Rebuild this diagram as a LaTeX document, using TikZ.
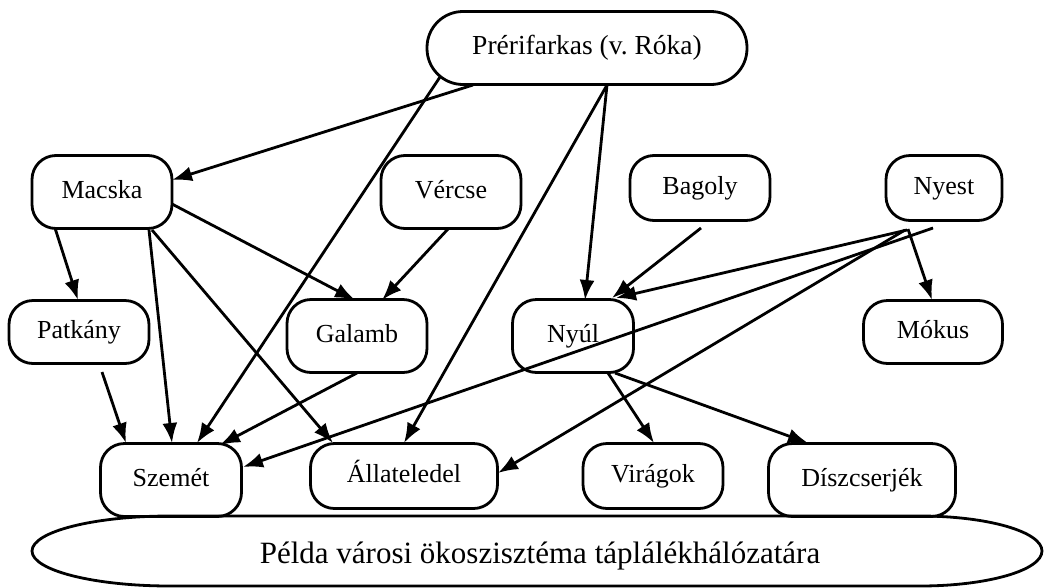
\documentclass[tikz,border=0pt]{standalone}
\usepackage{fontspec}
\setmainfont{Liberation Serif}
\usetikzlibrary{arrows.meta}
\tikzset{
  animal/.style={draw, line width=2.8pt, rounded corners=24pt, inner sep=0pt,
    font=\fontsize{26}{30}\selectfont, text height=18pt, text depth=6pt},
  feed/.style={-{Latex[length=20pt,width=15pt]}, line width=2.8pt},
}
\begin{document}
\begin{tikzpicture}[x=1pt, y=-1pt]
\fill[white] (0,0) rectangle (1060,587);
\useasboundingbox (0,0) rectangle (1060,587);

% nodes
\node[animal, rounded corners=36pt, minimum width=320pt, minimum height=73pt, font=\fontsize{27.5}{32}\selectfont] (pref) at (587,48) {Prérifarkas (v.\ Róka)};
\node[animal, minimum width=140pt, minimum height=73pt] (macska) at (102,192) {Macska};
\node[animal, minimum width=140pt, minimum height=73pt] (vercse) at (451,192) {Vércse};
\node[animal, minimum width=140pt, minimum height=65pt] (bagoly) at (700,188) {Bagoly};
\node[animal, minimum width=116pt, minimum height=65pt] (nyest) at (944,188) {Nyest};
\node[animal, minimum width=140pt, minimum height=63pt] (patkany) at (79,332) {Patkány};
\node[animal, minimum width=140pt, minimum height=73pt] (galamb) at (357,336) {Galamb};
\node[animal, minimum width=121pt, minimum height=73pt] (nyul) at (573,336) {Nyúl};
\node[animal, minimum width=139pt, minimum height=63pt] (mokus) at (933,332) {Mókus};
\node[animal, minimum width=141pt, minimum height=73pt] (szemet) at (171,480) {Szemét};
\node[animal, minimum width=187pt, minimum height=65pt] (allat) at (404,476) {Állateledel};
\node[animal, minimum width=140pt, minimum height=65pt] (viragok) at (653,476) {Virágok};
\node[animal, minimum width=187pt, minimum height=73pt] (diszc) at (862,480) {Díszcserjék};

% bottom caption shape
\draw[line width=2.8pt] (170,516) -- (920,516)
  arc[start angle=-90, end angle=90, x radius=122, y radius=35]
  -- (170,586)
  arc[start angle=90, end angle=270, x radius=138, y radius=35] -- cycle;
\node[anchor=base, font=\fontsize{31}{36}\selectfont, inner sep=0pt] (caption) at (540,563) {Példa városi ökoszisztéma táplálékhálózatára};

% connectors
\draw[feed] ([shift={(-114,37)}]pref.center) -- ([shift={(70,-12)}]macska.center);
\draw[feed] ([shift={(-147,29)}]pref.center) -- ([shift={(26,-37)}]szemet.center);
\draw[feed] ([shift={(20,37)}]pref.center) -- ([shift={(0,-33)}]allat.center);
\draw[feed] ([shift={(20,37)}]pref.center) -- ([shift={(12,-36)}]nyul.center);

\draw[feed] ([shift={(-47,36)}]macska.center) -- ([shift={(-1,-32)}]patkany.center);
\draw[feed] ([shift={(47,38)}]macska.center) -- ([shift={(1,-37)}]szemet.center);
\draw[feed] ([shift={(50,38)}]macska.center) -- ([shift={(-71,-33)}]allat.center);
\draw[feed] ([shift={(70,12)}]macska.center) -- ([shift={(-2,-36)}]galamb.center);

\draw[feed] ([shift={(-3,37)}]vercse.center) -- ([shift={(25,-36)}]galamb.center);
\draw[feed] ([shift={(1,40)}]bagoly.center) -- ([shift={(39,-38)}]nyul.center);

\draw[feed] ([shift={(-37,42)}]nyest.center) -- ([shift={(43,-38)}]nyul.center);
\draw[feed] ([shift={(-11,40)}]nyest.center) -- ([shift={(72,-13)}]szemet.center);
\draw[feed] ([shift={(-39,42)}]nyest.center) -- ([shift={(94,-3)}]allat.center);
\draw[feed] ([shift={(-36,41)}]nyest.center) -- ([shift={(-1,-32)}]mokus.center);

\draw[feed] ([shift={(23,40)}]patkany.center) -- ([shift={(-45,-37)}]szemet.center);
\draw[feed] ([shift={(0,37)}]galamb.center) -- ([shift={(49,-35)}]szemet.center);
\draw[feed] ([shift={(35,37)}]nyul.center) -- ([shift={(1,-33)}]viragok.center);
\draw[feed] ([shift={(42,37)}]nyul.center) -- ([shift={(-54,-37)}]diszc.center);
\end{tikzpicture}
\end{document}
